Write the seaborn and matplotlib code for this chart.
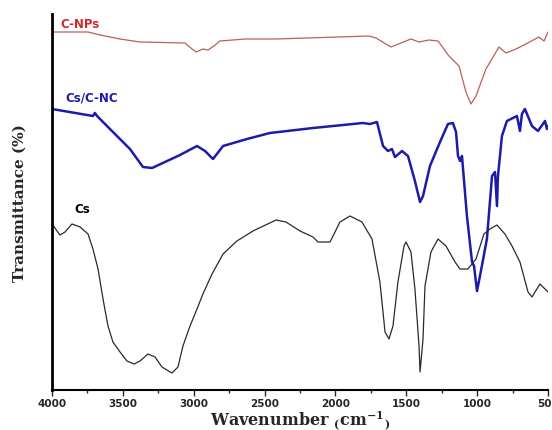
import numpy as np
import pandas as pd
import seaborn as sns
import matplotlib.pyplot as plt
from matplotlib.ticker import MultipleLocator

# wavenumber (cm-1) and relative transmittance (arbitrary offset units)
cnp_wn = [4000, 3746, 3661, 3520, 3379, 3062, 3012, 2984, 2935, 2899, 2857, 2815, 2638, 2419,
          1763, 1714, 1608, 1467, 1410, 1340, 1276, 1199, 1128, 1079, 1044, 1008, 938, 846,
          797, 726, 656, 564, 528, 500]
cnp_t = [358, 358, 355, 351, 348, 347, 341, 338, 341, 340, 344, 349, 351, 351,
         354, 352, 343, 351, 348, 350, 349, 334, 324, 298, 286, 294, 321, 343,
         337, 341, 346, 353, 349, 358]

csnc_wn = [4000, 3711, 3697, 3682, 3591, 3450, 3358, 3294, 3203, 3097, 2977, 2920, 2864, 2793,
           2624, 2462, 2158, 1806, 1756, 1707, 1664, 1629, 1601, 1580, 1530, 1488, 1439, 1403,
           1382, 1333, 1262, 1206, 1171, 1149, 1135, 1121, 1107, 1072, 1036, 1022, 1001, 980,
           931, 895, 874, 860, 853, 825, 790, 719, 698, 684, 663, 613, 571, 521, 507, 500]
csnc_t = [281, 274, 277, 274, 261, 241, 223, 222, 228, 235, 244, 239, 231, 244,
          251, 257, 262, 267, 266, 268, 244, 239, 241, 233, 239, 234, 209, 188,
          194, 224, 248, 266, 267, 258, 234, 229, 234, 174, 128, 124, 99, 114,
          151, 214, 218, 184, 214, 254, 269, 274, 259, 276, 281, 264, 259, 269, 261, 264]

cs_wn = [4000, 3944, 3908, 3859, 3802, 3746, 3711, 3675, 3640, 3605, 3570, 3520, 3471, 3421,
         3379, 3323, 3273, 3224, 3153, 3111, 3076, 3026, 2977, 2935, 2871, 2793, 2695, 2582,
         2419, 2349, 2250, 2158, 2123, 2038, 1968, 1897, 1813, 1742, 1686, 1650, 1622, 1594,
         1559, 1516, 1502, 1467, 1439, 1410, 1403, 1382, 1368, 1326, 1276, 1220, 1156, 1121,
         1065, 1008, 952, 910, 860, 804, 754, 698, 641, 613, 557, 521, 500]
cs_t = [166, 155, 158, 166, 163, 156, 141, 121, 91, 64, 48, 38, 29, 26,
        29, 36, 33, 23, 17, 23, 44, 64, 81, 96, 116, 136, 149, 159,
        170, 168, 159, 153, 148, 148, 168, 174, 168, 151, 108, 58, 51, 64,
        108, 144, 148, 138, 101, 44, 18, 51, 104, 138, 151, 144, 128, 121,
        121, 131, 156, 161, 165, 156, 144, 128, 98, 93, 106, 101, 98]

sns.set_style("white")

fig = plt.figure(figsize=(5.52, 4.31), dpi=100)
ax = fig.add_axes([52 / 552, 40 / 431, 496 / 552, 376 / 431])

sns.lineplot(x=cnp_wn, y=cnp_t, color="#b8605a", linewidth=0.9, estimator=None, ax=ax)
sns.lineplot(x=csnc_wn, y=csnc_t, color="#1c1ca8", linewidth=1.8, estimator=None, ax=ax)
sns.lineplot(x=cs_wn, y=cs_t, color="#2a2a2a", linewidth=0.9, estimator=None, ax=ax)

ax.text(3944, 366, "C-NPs", color="#d02a2a", fontsize=8.5, fontweight="bold", va="center")
ax.text(3908, 293, "Cs/C-NC", color="#1c1ca8", fontsize=8.5, fontweight="bold", va="center")
ax.text(3845, 181, "Cs", color="black", fontsize=8.5, fontweight="bold", va="center")

ax.set_xlim(4000, 500)
ax.set_ylim(0, 376)
ax.set_yticks([])
ax.xaxis.set_major_locator(MultipleLocator(500))
ax.xaxis.set_minor_locator(MultipleLocator(250))
ax.tick_params(axis="x", which="major", direction="out", length=4, width=1, labelsize=7.5, pad=2, bottom=True)
ax.tick_params(axis="x", which="minor", direction="out", length=2.5, width=1, bottom=True)
for lab in ax.get_xticklabels():
    lab.set_fontweight("bold")

for s in ["top", "right"]:
    ax.spines[s].set_visible(False)
ax.spines["left"].set_linewidth(2)
ax.spines["left"].set_color("black")
ax.spines["bottom"].set_linewidth(1.5)
ax.spines["bottom"].set_color("black")

ax.set_ylabel("Transmittance (%)", family="serif", fontweight="bold", fontsize=11, labelpad=18)
ax.set_xlabel(r"Wavenumber $\mathregular{_{(}cm^{-1}{_)}}$", family="serif", fontweight="bold",
              fontsize=11.5, labelpad=0)

fig.savefig("out.png", dpi=100)
